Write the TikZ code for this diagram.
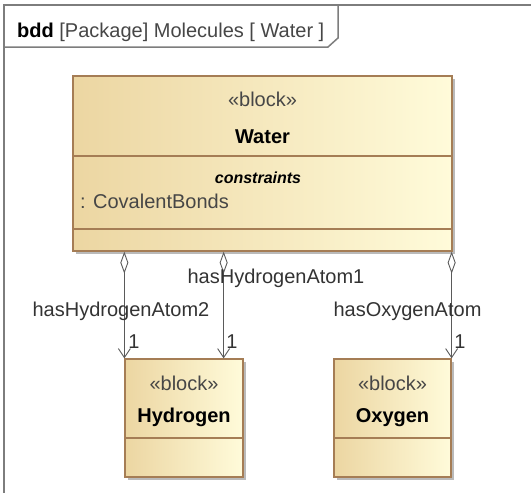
\documentclass[tikz,border=0pt]{standalone}
\usepackage{fontspec}
\setmainfont{Liberation Sans}
\usetikzlibrary{arrows.meta,shadows}

\definecolor{blockdark}{RGB}{236,214,162}
\definecolor{blocklight}{RGB}{255,251,218}
\definecolor{blockedge}{RGB}{165,125,85}
\definecolor{framegray}{RGB}{125,125,125}
\definecolor{linkgray}{RGB}{90,90,90}
\definecolor{textgray}{RGB}{70,70,70}

\tikzset{
  blockbox/.style={draw=blockedge, line width=1.3pt, left color=blockdark, right color=blocklight,
    inner sep=0pt, drop shadow={shadow xshift=3pt, shadow yshift=-3pt, fill=black!45, opacity=0.6}},
  compline/.style={draw=blockedge, line width=1.2pt},
  framepen/.style={draw=framegray, line width=1.5pt},
  txt/.style={inner sep=0pt, anchor=base, font=\fontsize{20}{24}\selectfont},
  stereo/.style={txt, text=textgray},
  bname/.style={txt, font=\fontsize{20}{24}\selectfont\bfseries},
  assoc/.style={draw=linkgray, line width=0.9pt,
    {Diamond[open, fill=white, length=22pt, width=8pt]}-{Straight Barb[length=9pt, width=12pt]}},
  rolelabel/.style={txt, text=black!80}
}

\begin{document}
\begin{tikzpicture}[x=1pt, y=-1pt]
  \useasboundingbox (0,0) rectangle (531,493);

  % diagram frame with its name tab
  \draw[framepen] (4,493) -- (4,5) -- (531,5);
  \draw[framepen] (4,47) -- (328,47) -- (338,38) -- (338,5);
  \node[txt, anchor=base west, text=textgray] (title) at (17,37)
    {\textcolor{black}{\textbf{bdd}} [Package] Molecules [ Water ]};

  % blocks
  \node[blockbox, minimum width=379pt, minimum height=175pt] (water) at (262.5,163.5) {};
  \node[blockbox, minimum width=118pt, minimum height=118pt] (hyd) at (184,418) {};
  \node[blockbox, minimum width=117pt, minimum height=118pt] (oxy) at (392.5,418) {};

  % compartment separators
  \draw[compline] (water.west |- 0,156) -- (water.east |- 0,156);
  \draw[compline] (water.west |- 0,229) -- (water.east |- 0,229);
  \draw[compline] (hyd.west |- 0,438) -- (hyd.east |- 0,438);
  \draw[compline] (oxy.west |- 0,438) -- (oxy.east |- 0,438);

  % block texts
  \node[stereo] (waterst) at (262.5,106) {«block»};
  \node[bname] (watername) at (262.5,143) {Water};
  \node[txt, font=\fontsize{16}{19}\selectfont\bfseries\itshape] (cons) at (258,183) {constraints};
  \node[stereo, anchor=base west] (covb) at (80,208) {: CovalentBonds};

  \node[stereo] (hydst) at (184,390) {«block»};
  \node[bname] (hydname) at (184,422) {Hydrogen};
  \node[stereo] (oxyst) at (392.5,390) {«block»};
  \node[bname] (oxyname) at (392.5,422) {Oxygen};

  % part associations
  \coordinate (h2end) at (hyd.north west);
  \coordinate (h1end) at ([xshift=-20pt]hyd.north east);
  \coordinate (oend) at (oxy.north east);
  \draw[assoc] (h2end |- water.south) -- (h2end);
  \draw[assoc] (h1end |- water.south) -- (h1end);
  \draw[assoc] (oend |- water.south) -- (oend);

  % role names and multiplicities
  \node[rolelabel] (r2) at (121,316) {hasHydrogenAtom2};
  \node[rolelabel] (r1) at (276,283) {hasHydrogenAtom1};
  \node[rolelabel] (ro) at (407.5,316) {hasOxygenAtom};
  \node[rolelabel] (m2) at (134,348) {1};
  \node[rolelabel] (m1) at (232,348) {1};
  \node[rolelabel] (mo) at (460,348) {1};
\end{tikzpicture}
\end{document}
